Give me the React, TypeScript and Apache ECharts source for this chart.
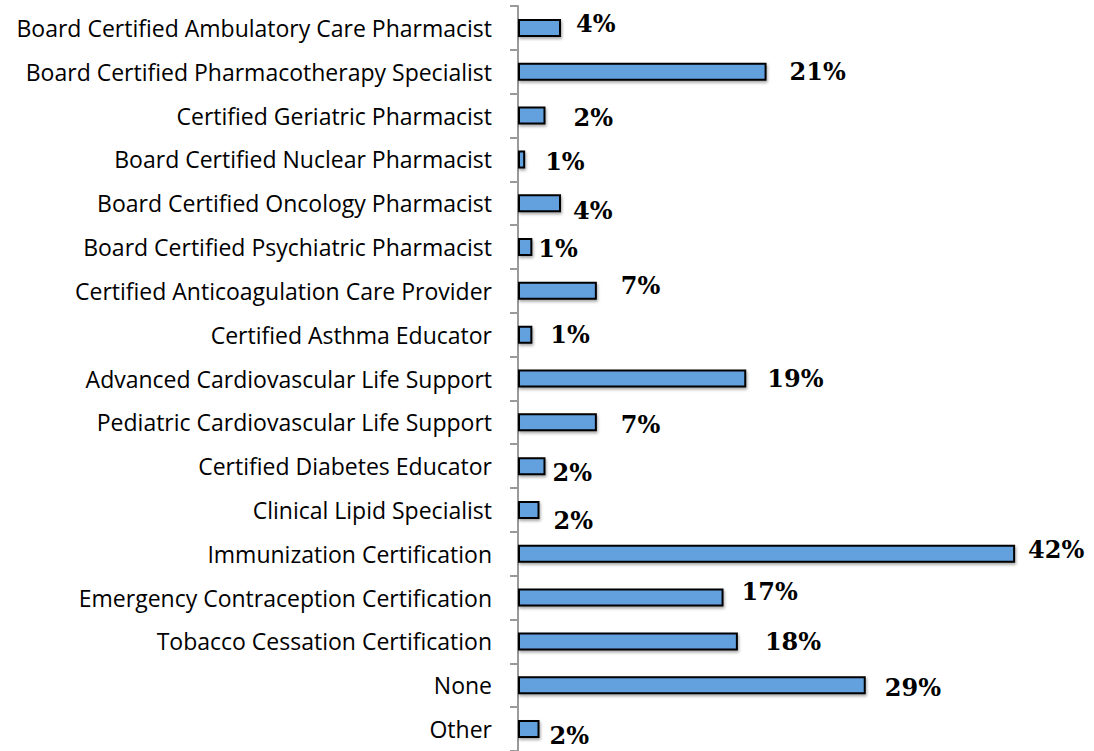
import React, { useEffect, useRef } from "react";
import * as echarts from "echarts";

const categories = [
  "Board Certified Ambulatory Care Pharmacist",
  "Board Certified Pharmacotherapy Specialist",
  "Certified Geriatric Pharmacist",
  "Board Certified Nuclear Pharmacist",
  "Board Certified Oncology Pharmacist",
  "Board Certified Psychiatric Pharmacist",
  "Certified Anticoagulation Care Provider",
  "Certified Asthma Educator",
  "Advanced Cardiovascular Life Support",
  "Pediatric Cardiovascular Life Support",
  "Certified Diabetes Educator",
  "Clinical Lipid Specialist",
  "Immunization Certification",
  "Emergency Contraception Certification",
  "Tobacco Cessation Certification",
  "None",
  "Other",
];

// percent of respondents
const values = [3.6, 20.8, 2.3, 0.6, 3.6, 1.2, 6.6, 1.2, 19.1, 6.6, 2.3, 1.8, 41.6, 17.2, 18.4, 29.1, 1.8];

// displayed (rounded) labels
const labelValues = [4, 21, 2, 1, 4, 1, 7, 1, 19, 7, 2, 2, 42, 17, 18, 29, 2];

// manual label nudges [dx, dy] (styling only)
const labelNudges = [
  [15, -4], [23, 0], [28, 2], [20, 2], [12, 7], [6, 1], [24, -5], [18, 0], [21, 0],
  [24, 2], [7, 6], [14, 11], [13, -4], [18, -6], [27, 0], [19, 2], [10, 6],
];

export default function App() {
  const ref = useRef<HTMLDivElement>(null);
  useEffect(() => {
    if (!ref.current) return;
    const chart = echarts.init(ref.current, null, { renderer: "svg" });
    chart.setOption({
      animation: false,
      backgroundColor: "#ffffff",
      grid: { left: 518, top: 6, width: 48 * 11.95, height: 753, containLabel: false },
      xAxis: {
        type: "value",
        min: 0,
        max: 48,
        show: false,
      },
      yAxis: {
        type: "category",
        inverse: true,
        data: categories,
        axisLine: { show: true, lineStyle: { color: "#9a9a9a", width: 2 } },
        axisTick: { show: true, length: 8, alignWithLabel: false, lineStyle: { color: "#9a9a9a", width: 2 } },
        axisLabel: {
          color: "#000000",
          fontFamily: "Open Sans",
          fontSize: 23,
          margin: 26,
          padding: [4, 0, 0, 0],
        },
        splitLine: { show: false },
      },
      series: [
        {
          type: "bar",
          data: values.map((v, i) => ({
            value: v,
            label: {
              offset: labelNudges[i],
              formatter: () => labelValues[i] + "%",
            },
          })),
          barWidth: 18,
          itemStyle: {
            color: "#63a1de",
            borderColor: "#000000",
            borderWidth: 2,
            shadowColor: "rgba(0,0,0,0.35)",
            shadowBlur: 3,
            shadowOffsetX: 1,
            shadowOffsetY: 2,
          },
          label: {
            show: true,
            position: "right",
            distance: 0,
            color: "#000000",
            fontFamily: "DejaVu Serif",
            fontWeight: "bold",
            fontSize: 24,
          },
        },
      ],
    });
    return () => chart.dispose();
  }, []);
  return (
    <div
      ref={ref}
      style={{ position: "fixed", left: 0, top: 0, width: 1094, height: 751, background: "#fff" }}
    />
  );
}
